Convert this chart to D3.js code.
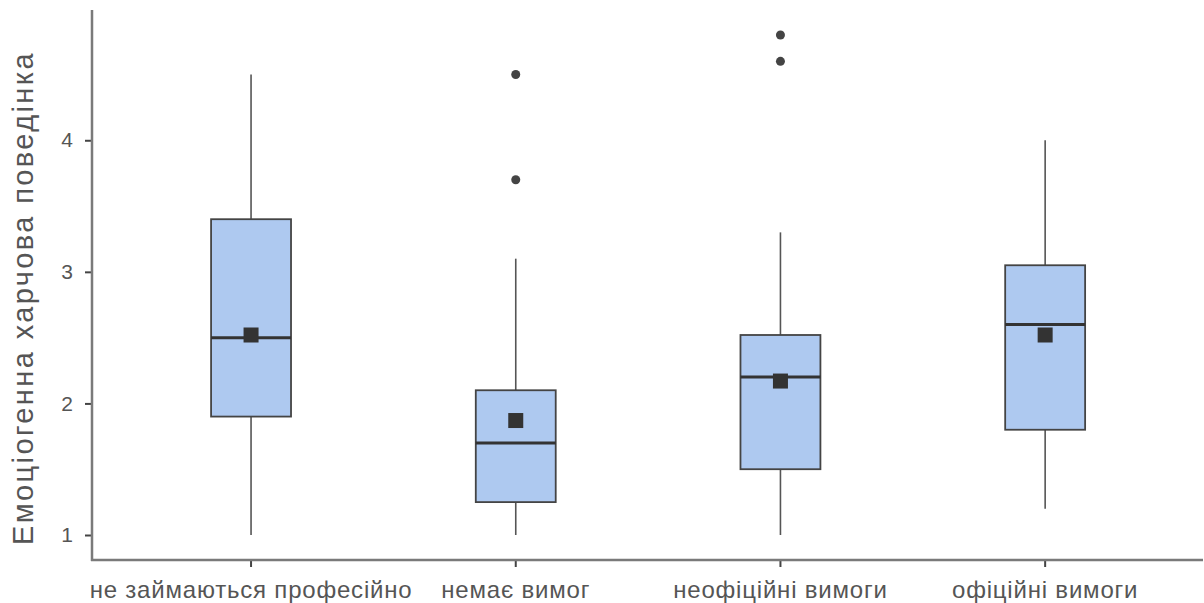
<!DOCTYPE html>
<html>
<head>
<meta charset="utf-8">
<script src="https://cdn.jsdelivr.net/npm/d3@7"></script>
<style>
  html, body { margin: 0; padding: 0; background: #fff; }
  svg { display: block; }
  text { font-family: "Liberation Sans", Arial, sans-serif; }
</style>
</head>
<body>
<svg id="chart" width="1204" height="603"></svg>
<script>
// Groups along the x axis
const categories = ["не займаються професійно", "немає вимог", "неофіційні вимоги", "офіційні вимоги"];
// Five-number summaries per group
const whiskerLow  = [1.0, 1.0, 1.0, 1.2];
const q1          = [1.9, 1.25, 1.5, 1.8];
const median      = [2.5, 1.7, 2.2, 2.6];
const q3          = [3.4, 2.1, 2.52, 3.05];
const whiskerHigh = [4.5, 3.1, 3.3, 4.0];
// Group means (square markers)
const means       = [2.52, 1.87, 2.17, 2.52];
// Outlying observations per group
const outliers    = [[], [4.5, 3.7], [4.8, 4.6], []];
const yTicks = [1, 2, 3, 4];
const yTitle = "Емоціогенна харчова поведінка";

const svg = d3.select("#chart");
const plotLeft = 92, plotRight = 1203, plotTop = 10, plotBottom = 560;

const x = d3.scaleBand().domain(categories).range([118.7, 1177.5]).padding(0);
const y = d3.scaleLinear().domain([0.81, 4.99]).range([plotBottom, plotTop]);

const boxW = x.bandwidth() * 0.302;
const axisColor = "#7a7a7a";
const textColor = "#555";

// Axes
const yAxis = svg.append("g").attr("transform", `translate(${plotLeft},0)`)
  .call(d3.axisLeft(y).tickValues(yTicks).tickFormat(d3.format("d")).tickSize(7).tickPadding(12));
const xAxis = svg.append("g").attr("transform", `translate(0,${plotBottom})`)
  .call(d3.axisBottom(x).tickSize(7).tickPadding(10));
[yAxis, xAxis].forEach(g => {
  g.select(".domain").remove();
  g.selectAll(".tick line").attr("stroke", "#444").attr("stroke-width", 2);
  g.selectAll(".tick text").attr("fill", textColor)
    .style("font-family", "'Liberation Sans', Arial, sans-serif");
});
yAxis.selectAll(".tick text").style("font-size", "21px");
xAxis.selectAll(".tick text")
  .style("font-size", "24px")
  .style("letter-spacing", "0.8px")
  .attr("y", 38).attr("dy", 0);
svg.append("line").attr("x1", plotLeft).attr("x2", plotLeft).attr("y1", plotTop).attr("y2", plotBottom + 1)
  .attr("stroke", axisColor).attr("stroke-width", 2.5);
svg.append("line").attr("x1", plotLeft - 1).attr("x2", plotRight).attr("y1", plotBottom).attr("y2", plotBottom)
  .attr("stroke", axisColor).attr("stroke-width", 2.5);

// Y axis title
svg.append("text")
  .attr("transform", `translate(33,${(y(0.81) + y(4.99)) / 2 + 13}) rotate(-90)`)
  .attr("text-anchor", "middle")
  .attr("fill", textColor)
  .style("font-size", "29px")
  .style("letter-spacing", "2.4px")
  .text(yTitle);

// Boxes
const groups = svg.append("g").selectAll("g").data(categories).join("g")
  .attr("transform", d => `translate(${x(d) + x.bandwidth() / 2},0)`);

groups.append("line").attr("class", "whisker-hi")
  .attr("x1", 0).attr("x2", 0)
  .attr("y1", (d, i) => y(whiskerHigh[i])).attr("y2", (d, i) => y(q3[i]))
  .attr("stroke", "#555").attr("stroke-width", 1.6);
groups.append("line").attr("class", "whisker-lo")
  .attr("x1", 0).attr("x2", 0)
  .attr("y1", (d, i) => y(q1[i])).attr("y2", (d, i) => y(whiskerLow[i]))
  .attr("stroke", "#555").attr("stroke-width", 1.6);

groups.append("rect")
  .attr("x", -boxW / 2).attr("width", boxW)
  .attr("y", (d, i) => y(q3[i]))
  .attr("height", (d, i) => y(q1[i]) - y(q3[i]))
  .attr("fill", "#aec9f0").attr("stroke", "#444").attr("stroke-width", 1.8);

groups.append("line")
  .attr("x1", -boxW / 2).attr("x2", boxW / 2)
  .attr("y1", (d, i) => y(median[i])).attr("y2", (d, i) => y(median[i]))
  .attr("stroke", "#333").attr("stroke-width", 3);

const sq = 15;
groups.append("rect")
  .attr("x", -sq / 2).attr("width", sq).attr("height", sq)
  .attr("y", (d, i) => y(means[i]) - sq / 2)
  .attr("fill", "#333");

groups.each(function (d, i) {
  d3.select(this).selectAll("circle").data(outliers[i]).join("circle")
    .attr("cx", 0).attr("cy", v => y(v)).attr("r", 4.5).attr("fill", "#444");
});
</script>
</body>
</html>
